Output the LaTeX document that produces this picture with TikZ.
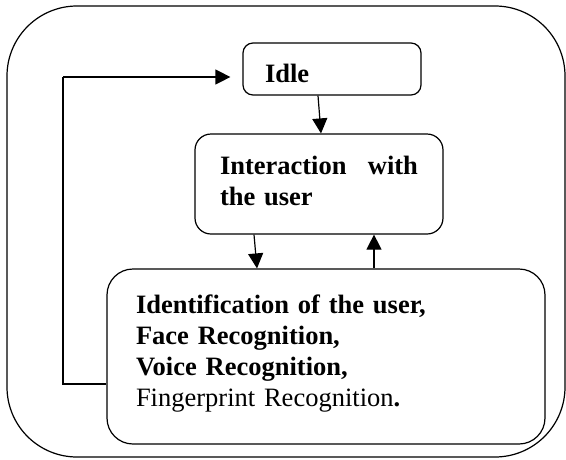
\documentclass[tikz,border=0pt]{standalone}
\usepackage{fontspec}
\setmainfont{Liberation Serif}
\usetikzlibrary{arrows.meta}

\tikzset{
  frame/.style={draw, line width=1.2pt, rounded corners=70pt, inner sep=0pt},
  stepbox/.style={draw, line width=1.2pt, inner ysep=0pt, align=left,
    font=\fontsize{26.5}{31}\selectfont\bfseries},
  flow/.style={line width=1.2pt, -{Triangle[length=15pt,width=15pt]}},
  loopline/.style={line width=1.2pt}
}

\begin{document}
\begin{tikzpicture}[x=1pt,y=-1pt]
\useasboundingbox (0,0) rectangle (566,459);

% surrounding frame
\node[frame, minimum width=558pt, minimum height=451pt] (frame) at (286,231.5) {};

% states
\node[stepbox, rounded corners=10pt, minimum width=178pt, minimum height=52pt,
      text width=134pt, inner xsep=22pt, text height=26pt, text depth=0pt]
      (idle) at (332,69) {Idle};

\node[stepbox, rounded corners=16pt, minimum width=248pt, minimum height=100pt,
      text width=198pt, inner xsep=25pt, text height=20pt, text depth=40pt]
      (inter) at (319,184) {Interaction\hfill with\\the user};

\node[stepbox, rounded corners=26pt, minimum width=438pt, minimum height=175pt,
      text width=380pt, inner xsep=29pt, text height=20pt, text depth=107pt]
      (ident) at (326,356.5)
      {Identification of the user,\\Face Recognition,\\Voice Recognition,\\
       \textmd{Fingerprint Recognition}.};

% transitions
\draw[flow] ([xshift=-14pt]idle.south) -- ([xshift=2pt]inter.north);
\draw[flow] ([xshift=-65pt]inter.south) -- ([xshift=-69pt]ident.north);
\draw[flow] ([xshift=48pt]ident.north) -- ([xshift=55pt]inter.south);

% return path back to the idle state
\coordinate (retlow) at (63,384);
\coordinate (rethigh) at (63,77);
\draw[loopline] ([yshift=-27.5pt]ident.west) -- (retlow) -- (rethigh);
\draw[flow] (rethigh) -- ([xshift=-12pt,yshift=-8pt]idle.west);
\end{tikzpicture}
\end{document}
